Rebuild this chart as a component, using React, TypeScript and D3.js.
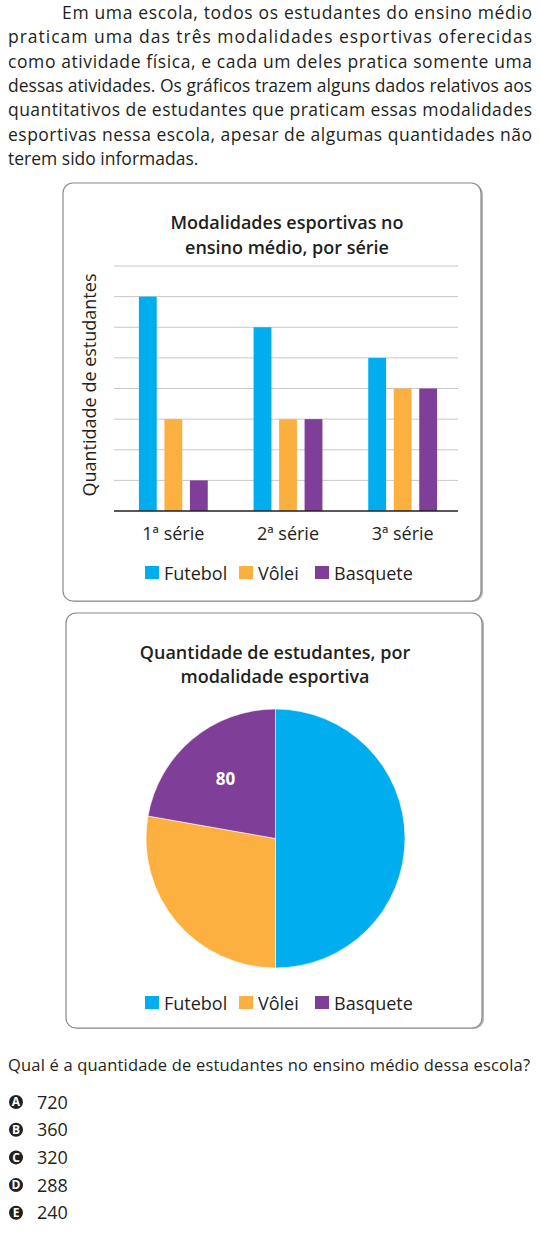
import * as d3 from "d3";

const W = 540;
const H = 1235;

const paragraph = [
  "Em uma escola, todos os estudantes do ensino médio",
  "praticam uma das três modalidades esportivas oferecidas",
  "como atividade física, e cada um deles pratica somente uma",
  "dessas atividades. Os gráficos trazem alguns dados relativos aos",
  "quantitativos de estudantes que praticam essas modalidades",
  "esportivas nessa escola, apesar de algumas quantidades não",
  "terem sido informadas.",
];

const series = ["Futebol", "Vôlei", "Basquete"];
const colors = ["#00aeef", "#fbb040", "#7f3f98"];
const grades = ["1ª série", "2ª série", "3ª série"];
// bar heights in grid units (unlabelled axis)
const futebol = [7, 6, 5];
const volei = [3, 3, 4];
const basquete = [1, 3, 4];
const yTicks = [1, 2, 3, 4, 5, 6, 7, 8];

const pieValues = [180, 100, 80];
const pieLabels = ["", "", "80"];

const question = "Qual é a quantidade de estudantes no ensino médio dessa escola?";
const optLetters = ["A", "B", "C", "D", "E"];
const optValues = ["720", "360", "320", "288", "240"];

const FONT = "'Open Sans', sans-serif";
const TXT = "#231f20";

function Panel({ x, y, w, h }: { x: number; y: number; w: number; h: number }) {
  return (
    <g>
      <rect x={x + 2} y={y + 1} width={w} height={h} rx={10} fill="#b5b5b5" />
      <rect x={x} y={y} width={w} height={h} rx={10} fill="#fff" stroke="#8a8a8a" strokeWidth={1.2} />
    </g>
  );
}

function Legend({ y }: { y: number }) {
  const sq = [145, 239, 315];
  return (
    <g>
      {series.map((s, i) => (
        <g key={s}>
          <rect x={sq[i]} y={y - 7} width={14} height={13} fill={colors[i]} />
          <text x={sq[i] + 19} y={y + 6.5} fontSize={18} fill={TXT} fontFamily={FONT}>
            {s}
          </text>
        </g>
      ))}
    </g>
  );
}

function BarChart() {
  const x0 = d3.scaleBand<string>().domain(grades).range([116, 460]);
  const bw = x0.bandwidth();
  const x1 = d3
    .scaleBand<string>()
    .domain(series)
    .range([bw / 2 - 38.25, bw / 2 + 38.25])
    .paddingInner(0.3)
    .paddingOuter(0.15);
  const y = d3.scaleLinear().domain([0, 8]).range([511, 266]);
  const data = [futebol, volei, basquete];

  return (
    <g>
      <Panel x={63} y={183} w={418} h={418} />
      <text x={287} y={229} textAnchor="middle" fontSize={18} fontWeight={600} fill={TXT} fontFamily={FONT}>
        Modalidades esportivas no
      </text>
      <text x={287} y={254} textAnchor="middle" fontSize={18} fontWeight={600} fill={TXT} fontFamily={FONT}>
        ensino médio, por série
      </text>
      {yTicks.map((t) => (
        <line key={t} x1={114} x2={458} y1={y(t)} y2={y(t)} stroke="#c8c8c8" strokeWidth={1} />
      ))}
      {grades.map((g, gi) => (
        <g key={g} transform={`translate(${x0(g)},0)`}>
          {series.map((s, si) => (
            <rect
              key={s}
              x={x1(s)}
              y={y(data[si][gi])}
              width={x1.bandwidth()}
              height={y(0) - y(data[si][gi])}
              fill={colors[si]}
            />
          ))}
          <text x={bw / 2} y={540} textAnchor="middle" fontSize={18} fill={TXT} fontFamily={FONT}>
            {g}
          </text>
        </g>
      ))}
      <line x1={114} x2={458} y1={y(0)} y2={y(0)} stroke="#231f20" strokeWidth={1.5} />
      <text
        transform="translate(96,385) rotate(-90)"
        textAnchor="middle"
        fontSize={18}
        fill={TXT}
        fontFamily={FONT}
      >
        Quantidade de estudantes
      </text>
      <Legend y={573} />
    </g>
  );
}

function PieChart() {
  const cx = 275.5;
  const cy = 838.5;
  const r = 129.5;
  const arcs = d3.pie<number>().sort(null).startAngle(0).endAngle(2 * Math.PI)(pieValues);
  const arc = d3.arc<d3.PieArcDatum<number>>().innerRadius(0).outerRadius(r);
  const labelArc = d3.arc<d3.PieArcDatum<number>>().innerRadius(r * 0.6).outerRadius(r * 0.6);
  return (
    <g>
      <Panel x={66} y={613} w={416} h={415} />
      <text x={275} y={659} textAnchor="middle" fontSize={18} fontWeight={600} fill={TXT} fontFamily={FONT}>
        Quantidade de estudantes, por
      </text>
      <text x={275} y={683} textAnchor="middle" fontSize={18} fontWeight={600} fill={TXT} fontFamily={FONT}>
        modalidade esportiva
      </text>
      <g transform={`translate(${cx},${cy})`}>
        {arcs.map((a, i) => (
          <path key={i} d={arc(a) ?? ""} fill={colors[i]} stroke="#fff" strokeWidth={0.6} />
        ))}
        {arcs.map((a, i) => {
          const [lx, ly] = labelArc.centroid(a);
          return (
            <text
              key={`l${i}`}
              x={lx}
              y={ly + 6}
              textAnchor="middle"
              fontSize={17}
              fontWeight="bold"
              fill="#fff"
              fontFamily={FONT}
            >
              {pieLabels[i]}
            </text>
          );
        })}
      </g>
      <Legend y={1003} />
    </g>
  );
}

export default function App() {
  const lineY = d3.range(paragraph.length).map((i) => 19 + i * 24.3);
  return (
    <svg
      width={W}
      height={H}
      viewBox={`0 0 ${W} ${H}`}
      style={{ position: "absolute", left: 0, top: 0, background: "#fff" }}
    >
      {paragraph.map((l, i) => {
        const x = i === 0 ? 62 : 8;
        const last = i === paragraph.length - 1;
        return (
          <text
            key={i}
            x={x}
            y={lineY[i]}
            fontSize={17.5}
            fill={TXT}
            fontFamily={FONT}
            textLength={last ? undefined : 532 - x}
            lengthAdjust={last ? undefined : "spacing"}
          >
            {l}
          </text>
        );
      })}
      <BarChart />
      <PieChart />
      <text x={8} y={1071} fontSize={16.5} fill={TXT} fontFamily={FONT} textLength={522} lengthAdjust="spacing">
        {question}
      </text>
      {optLetters.map((c, i) => {
        const yy = 1102 + i * 27.7;
        return (
          <g key={c}>
            <circle cx={16} cy={yy} r={7} fill="#231f20" />
            <text x={16} y={yy + 4.2} textAnchor="middle" fontSize={12} fontWeight="bold" fill="#fff" fontFamily={FONT}>
              {c}
            </text>
            <text x={37} y={yy + 6.5} fontSize={18} fill={TXT} fontFamily={FONT}>
              {optValues[i]}
            </text>
          </g>
        );
      })}
    </svg>
  );
}
